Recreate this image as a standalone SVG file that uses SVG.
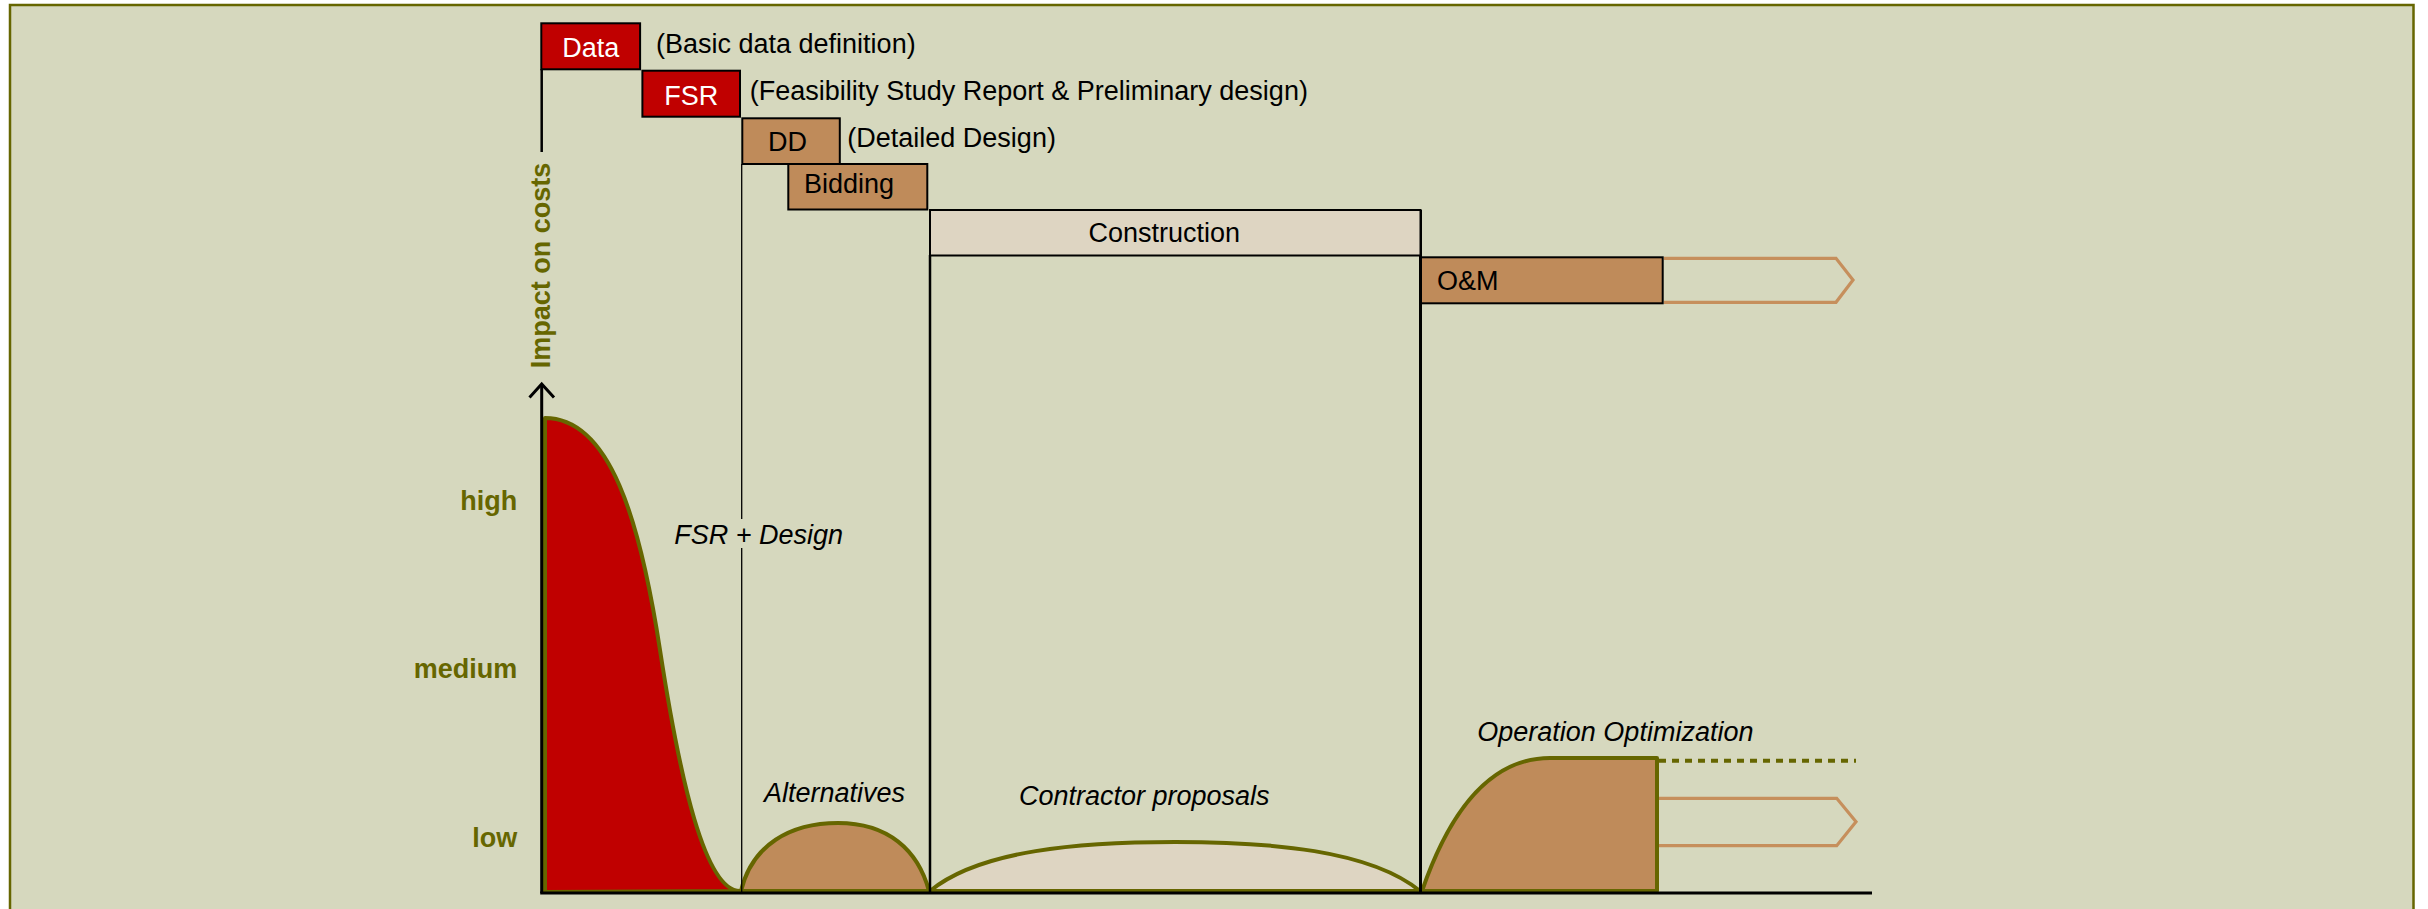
<svg xmlns="http://www.w3.org/2000/svg" width="2428" height="909" viewBox="0 0 2428 909">
<style>
.t{font-family:"Liberation Sans",Arial,sans-serif;font-size:27px;fill:#000}
.w{fill:#fff}
.i{font-style:italic}
.lab{font-family:"Liberation Sans",Arial,sans-serif;font-size:27px;font-weight:bold;fill:#666600}
.box{stroke:#000;stroke-width:2}
.red{fill:#C00000}
.tan{fill:#BF8B5A}
.ln{stroke:#000;fill:none}
.curve{stroke:#666600;stroke-width:4;stroke-linejoin:round}
.out{fill:none;stroke:#C68F5C;stroke-width:3.2}
</style>
<rect x="0" y="0" width="2428" height="909" fill="#FFFFFF"/>
<rect id="frame" x="10" y="5" width="2403.5" height="940" fill="#D6D8BE" stroke="#666600" stroke-width="2.5"/>

<g id="curve-red"><path class="curve red" d="M545,892 L545,418 C610,418 640,520 660,650 C680,780 705,891 740,891 Z"/></g>
<g id="curve-alternatives"><path class="curve tan" d="M741,891 C752,845 790,823 838,823 C888,823 918,850 929,891 Z"/></g>
<g id="curve-contractor"><path class="curve" fill="#DED5C2" d="M930,891 C980,850 1080,842 1175,842 C1270,842 1370,850 1420,891 Z"/></g>
<g id="curve-om"><path class="curve tan" d="M1422,891 C1450,810 1490,758 1550,758 L1657,758 L1657,891 Z"/>
<path d="M1659,760.7 H1856" stroke="#666600" stroke-width="4" stroke-dasharray="7 6" fill="none"/>
<path class="out" d="M1659,798.3 H1836.7 L1856,821.7 L1836.7,845.7 H1659"/></g>

<g id="connectors">
<path class="ln" stroke-width="2.5" d="M541.7,69 V152"/>
<path class="ln" stroke-width="3" d="M541.7,384 V893"/>
<path class="ln" stroke-width="3" d="M529.5,397.5 L541.7,384 L554,397.5"/>
<path class="ln" stroke-width="3" d="M540.2,893 H1872"/>
<path class="ln" stroke-width="1.3" d="M741.7,164 V519 M741.7,548 V893"/>
<path class="ln" stroke-width="2.5" d="M930,255 V893"/>
<path class="ln" stroke-width="3" d="M1420.5,210 V893"/>
</g>

<g id="data"><rect class="box red" x="541.3" y="23.3" width="98.8" height="46"/><text class="t w" x="590.7" y="57" text-anchor="middle">Data</text></g>
<g id="data-note"><text class="t" x="656" y="53">(Basic data definition)</text></g>
<g id="fsr"><rect class="box red" x="642.4" y="70.7" width="97.6" height="46"/><text class="t w" x="691.3" y="105.3" text-anchor="middle">FSR</text></g>
<g id="fsr-note"><text class="t" x="749.7" y="100">(Feasibility Study Report &amp; Preliminary design)</text></g>
<g id="dd"><rect class="box tan" x="742.3" y="118.3" width="97.5" height="45.7"/><text class="t" x="768" y="151">DD</text></g>
<g id="dd-note"><text class="t" x="847.3" y="147">(Detailed Design)</text></g>
<g id="bidding"><rect class="box tan" x="788.3" y="164" width="139" height="45.5"/><text class="t" x="804" y="193">Bidding</text></g>
<g id="construction"><rect class="box" fill="#DED5C2" x="930" y="210" width="490.5" height="45.5"/><text class="t" x="1088.4" y="242">Construction</text></g>
<g id="om"><rect class="box tan" x="1421" y="257.3" width="241.7" height="46"/><text class="t" x="1437" y="290">O&amp;M</text>
<path class="out" d="M1664,258.3 H1836 L1853,280 L1836,302.3 H1664"/></g>

<g id="axis-labels">
<text class="lab" transform="translate(549.5,368.3) rotate(-90)">Impact on costs</text>
<text class="lab" x="517.3" y="510" text-anchor="end">high</text>
<text class="lab" x="517.3" y="677.5" text-anchor="end">medium</text>
<text class="lab" x="517.3" y="847" text-anchor="end">low</text>
</g>
<g id="phase-labels">
<text class="t i" x="674.3" y="544">FSR + Design</text>
<text class="t i" x="764" y="802">Alternatives</text>
<text class="t i" x="1019" y="805">Contractor proposals</text>
<text class="t i" x="1477.3" y="741">Operation Optimization</text>
</g>
</svg>
